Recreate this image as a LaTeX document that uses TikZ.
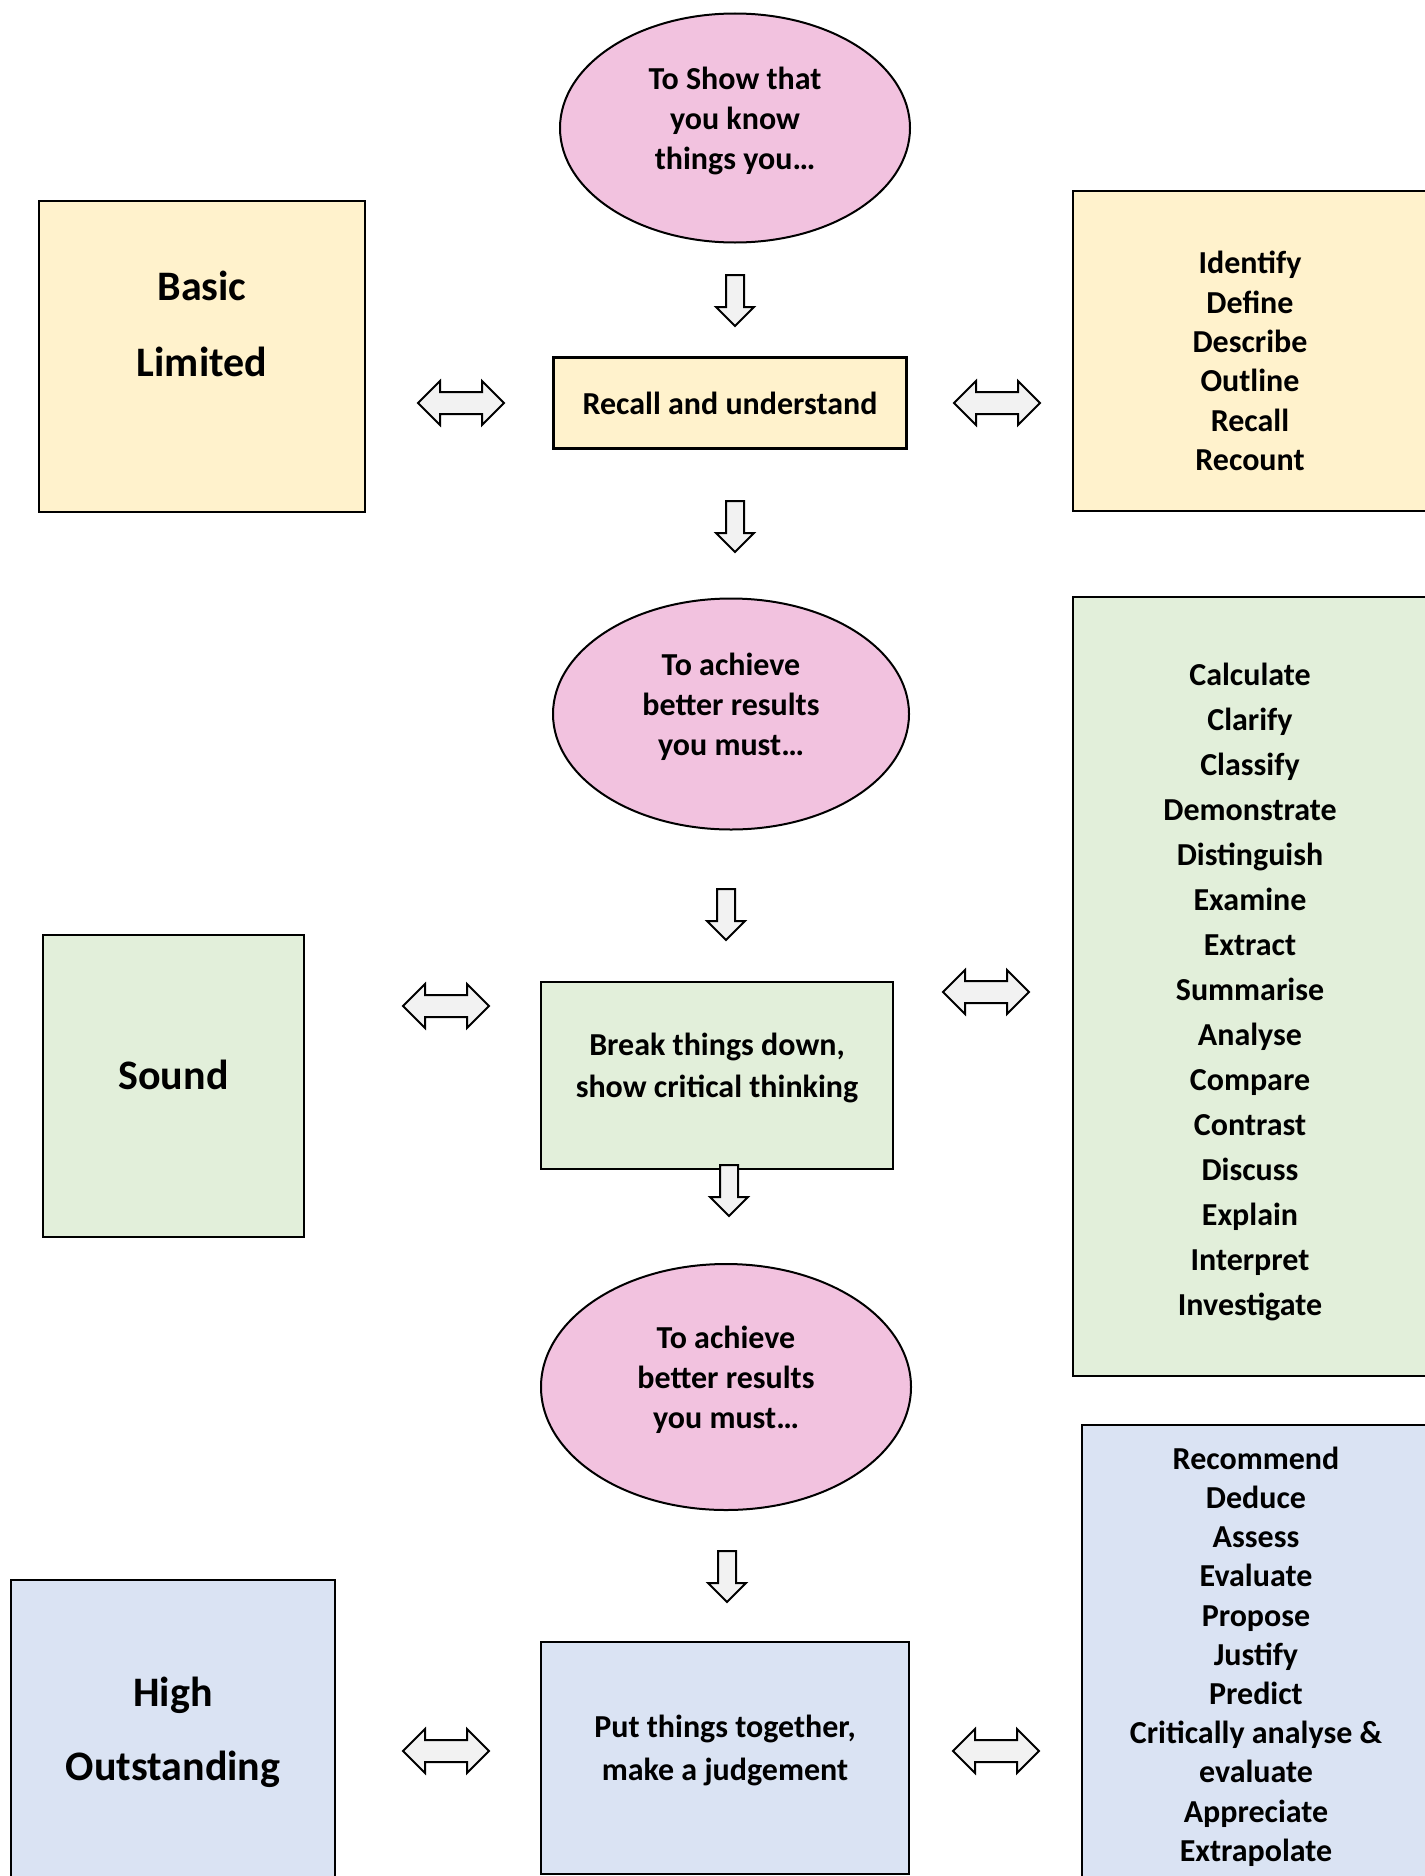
\documentclass[tikz,border=0pt]{standalone}
\usepackage{fontspec}
\setmainfont{Carlito}
\usetikzlibrary{shapes.geometric}

\definecolor{pinkfill}{HTML}{F2C2DF}
\definecolor{yellowfill}{HTML}{FFF2CC}
\definecolor{greenfill}{HTML}{E2EFDA}
\definecolor{bluefill}{HTML}{DAE3F3}
\definecolor{arrowfill}{HTML}{F2F2F2}

\tikzset{
  oval/.style={ellipse, draw=black, line width=2pt, fill=pinkfill},
  box/.style={rectangle, draw=black, line width=2.5pt},
  plaintext/.style={align=center, font=\bfseries\fontsize{32}{40}\selectfont},
  bigtext/.style={align=center, font=\bfseries\fontsize{42}{76}\selectfont},
  listtext/.style={align=center, font=\bfseries\fontsize{32}{39.4}\selectfont},
  blockarrow/.style={draw=black, line width=2pt, fill=arrowfill, line join=miter},
}

% block arrow pointing down, top of shaft at (#1,#2)
\newcommand{\downblock}[2]{%
  \filldraw[blockarrow] ({#1-9},{#2}) -- ({#1+9},{#2}) -- ({#1+9},{#2+32})
    -- ({#1+19},{#2+32}) -- ({#1},{#2+51}) -- ({#1-19},{#2+32})
    -- ({#1-9},{#2+32}) -- cycle;}
% block arrow pointing both ways, centred at (#1,#2)
\newcommand{\bothblock}[2]{%
  \filldraw[blockarrow] ({#1-43},{#2}) -- ({#1-21},{#2-22}) -- ({#1-21},{#2-11})
    -- ({#1+21},{#2-11}) -- ({#1+21},{#2-22}) -- ({#1+43},{#2})
    -- ({#1+21},{#2+22}) -- ({#1+21},{#2+11}) -- ({#1-21},{#2+11})
    -- ({#1-21},{#2+22}) -- cycle;}

\begin{document}
\begin{tikzpicture}[x=1pt, y=-1pt]

\useasboundingbox[fill=white] (0,0) rectangle (1424,1876);

% recall level
\node[oval, minimum width=350, minimum height=229] (show) at (735,128) {};
\node[plaintext] (showtext) at (735,121) {To Show that\\you know\\things you…};
\node[box, fill=yellowfill, minimum width=353, minimum height=91, plaintext] (recall) at (730,403)
  {Recall and understand};
\node[box, fill=yellowfill, minimum width=326, minimum height=311] (basic) at (202,356.5) {};
\node[bigtext] (basictext) at (202,323.5) {Basic\\Limited};
\node[box, fill=yellowfill, minimum width=357, minimum height=320] (recallverbs) at (1251.5,351) {};
\node[listtext] (recallverbstext) at (1250,361)
  {Identify\\Define\\Describe\\Outline\\Recall\\Recount};

\downblock{735}{275}
\bothblock{461}{403}
\bothblock{997}{403}
\downblock{735}{501}

% analysis level
\node[oval, minimum width=356, minimum height=231] (better) at (731,714) {};
\node[plaintext] (bettertext) at (731,707) {To achieve\\better results\\you must…};
\node[box, fill=greenfill, minimum width=352, minimum height=187] (breakdown) at (717,1075.5) {};
\node[plaintext, font=\bfseries\fontsize{32}{42}\selectfont] (breakdowntext) at (717,1067.5)
  {Break things down,\\show critical thinking};
\node[box, fill=greenfill, minimum width=261, minimum height=302] (sound) at (173.5,1086) {};
\node[bigtext] (soundtext) at (173.5,1075) {Sound};
\node[box, fill=greenfill, minimum width=357, minimum height=779] (analyseverbs) at (1251.5,986.5) {};
\node[listtext, font=\bfseries\fontsize{32}{45}\selectfont] (analyseverbstext) at (1250,991.5)
  {Calculate\\Clarify\\Classify\\Demonstrate\\Distinguish\\Examine\\Extract\\Summarise\\
   Analyse\\Compare\\Contrast\\Discuss\\Explain\\Interpret\\Investigate};

\downblock{726}{889}
\bothblock{446}{1006}
\bothblock{986}{992}
\downblock{729}{1165}

% evaluation level
\node[oval, minimum width=370, minimum height=246] (bettertoo) at (726,1387) {};
\node[plaintext] (bettertootext) at (726,1380) {To achieve\\better results\\you must…};
\node[box, fill=bluefill, minimum width=368, minimum height=232] (together) at (725,1758) {};
\node[plaintext, font=\bfseries\fontsize{32}{43}\selectfont] (togethertext) at (725,1750.5)
  {Put things together,\\make a judgement};
\node[box, fill=bluefill, minimum width=324, minimum height=320] (high) at (173,1740) {};
\node[bigtext, font=\bfseries\fontsize{42}{74}\selectfont] (hightext) at (173,1732)
  {High\\Outstanding};
\node[box, fill=bluefill, minimum width=348, minimum height=475] (evaluateverbs) at (1256,1662.5) {};
\node[listtext, font=\bfseries\fontsize{32}{39.2}\selectfont] (evaluateverbstext) at (1256,1656.5)
  {Recommend\\Deduce\\Assess\\Evaluate\\Propose\\Justify\\Predict\\Critically analyse \&\\
   evaluate\\Appreciate\\Extrapolate};

\downblock{727}{1551}
\bothblock{446}{1751}
\bothblock{996}{1751}

\end{tikzpicture}
\end{document}
